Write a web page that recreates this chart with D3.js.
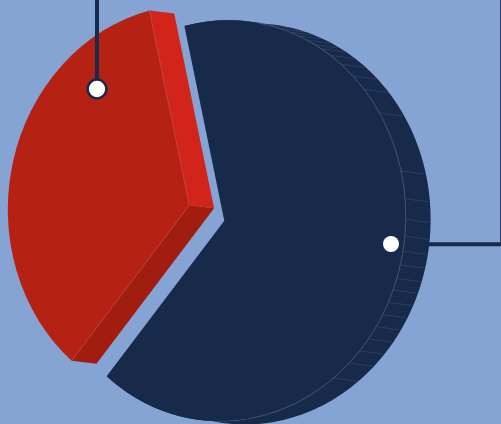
<!DOCTYPE html>
<html>
<head>
<meta charset="utf-8">
<script src="https://cdn.jsdelivr.net/npm/d3@7"></script>
<style>
html, body { margin: 0; padding: 0; background: #85a3d3; overflow: hidden; }
svg { display: block; }
</style>
</head>
<body>
<svg id="chart" width="501" height="424"></svg>
<script>
// Slice shares
const labels = ["navy", "red"];
const values = [64.75, 35.25];
const topColors = ["#172a49", "#b52113"];
const startDeg = -12.7;

// Where the facet lines sit on the navy wall, degrees clockwise from the top
const facetDegs = [14, 18, 21, 24, 27, 30, 32.2, 35.8, 40, 45, 50.4, 58.8, 76.9, 85, 90.9, 95.7, 100, 104,
  108, 111.5, 115.3, 119.2, 123.2, 127.4, 131.8, 136.5, 143];

const width = 501, height = 424;
const svg = d3.select("#chart");

const rx = 181.5, ry = 200.5, skew = 0.025;
const depthX = 24.8, depthY = 3.2;
const toRad = d => d * Math.PI / 180;

const pie = d3.pie().sort(null).startAngle(toRad(startDeg)).endAngle(toRad(startDeg + 360));
const arcs = pie(values);
const arc = d3.arc().innerRadius(0).outerRadius(ry);

// slice apex on the page
const apex = [{ x: 224.3, y: 220.7 }, { x: 189.3, y: 205 }];

// the disc is tilted, so unit circle -> slightly sheared ellipse
const faceTransform = i => `matrix(${rx / ry},${-skew * rx / ry},0,1,${apex[i].x},${apex[i].y})`;

function rim(a, i) {
  const x = rx * Math.sin(a);
  return [apex[i].x + x, apex[i].y - ry * Math.cos(a) - skew * x];
}

const line = d3.line();

// side wall = the rim swept along the depth vector
function wallPath(d, i) {
  const pts = d3.range(0, 1.0001, 0.005).map(t => rim(d.startAngle + t * (d.endAngle - d.startAngle), i));
  const back = pts.map(p => [p[0] + depthX, p[1] + depthY]).reverse();
  return line(pts.concat(back)) + "Z";
}

function quad(a, i) {
  const c = [apex[i].x, apex[i].y], r = rim(a, i);
  return line([c, r, [r[0] + depthX, r[1] + depthY], [c[0] + depthX, c[1] + depthY]]) + "Z";
}

// navy slice
svg.append("path").attr("d", wallPath(arcs[0], 0)).attr("fill", topColors[0]);
svg.append("g").selectAll("path").data(facetDegs).join("path")
  .attr("d", a => {
    const p = rim(toRad(a), 0);
    return line([p, [p[0] + depthX - 1.5, p[1] + depthY]]);
  })
  .attr("stroke", "#34466a").attr("stroke-width", 0.7).attr("fill", "none");

// red slice walls, the two cut faces
svg.append("path").attr("d", quad(arcs[1].startAngle, 1)).attr("fill", "#a11d10");
svg.append("path").attr("d", quad(arcs[1].endAngle, 1)).attr("fill", "#d2241a");

// top faces
svg.append("g").selectAll("path").data(arcs).join("path")
  .attr("transform", (d, i) => faceTransform(i))
  .attr("d", arc)
  .attr("fill", (d, i) => topColors[i]);

// faint edge between the red top and its cut faces
[arcs[1].startAngle, arcs[1].endAngle].forEach(a => {
  svg.append("path")
    .attr("d", line([[apex[1].x, apex[1].y], rim(a, 1)]))
    .attr("stroke", "#c4524a").attr("stroke-width", 0.5).attr("fill", "none");
});

// thin rim highlight on the navy face
const rimArc = d3.arc().innerRadius(ry).outerRadius(ry);
svg.append("path")
  .attr("transform", faceTransform(0))
  .attr("d", rimArc({ startAngle: toRad(10), endAngle: toRad(172) }))
  .attr("fill", "none").attr("stroke", "#3d5072").attr("stroke-width", 0.6);

// callouts
svg.append("path").attr("d", line([[97, 0], [97, 89]])).attr("stroke", "#172a49").attr("stroke-width", 4).attr("fill", "none");
svg.append("circle").attr("cx", 97).attr("cy", 89).attr("r", 9.4)
  .attr("fill", "#fff").attr("stroke", "#172a49").attr("stroke-width", 2.5);

svg.append("path").attr("d", line([[428, 244.3], [501, 244.3]])).attr("stroke", "#172a49").attr("stroke-width", 4).attr("fill", "none");
svg.append("path").attr("d", line([[500.5, 0], [500.5, 244]])).attr("stroke", "#2c3f60").attr("stroke-width", 1).attr("fill", "none");
svg.append("circle").attr("cx", 391).attr("cy", 244).attr("r", 8).attr("fill", "#fff");
</script>
</body>
</html>
